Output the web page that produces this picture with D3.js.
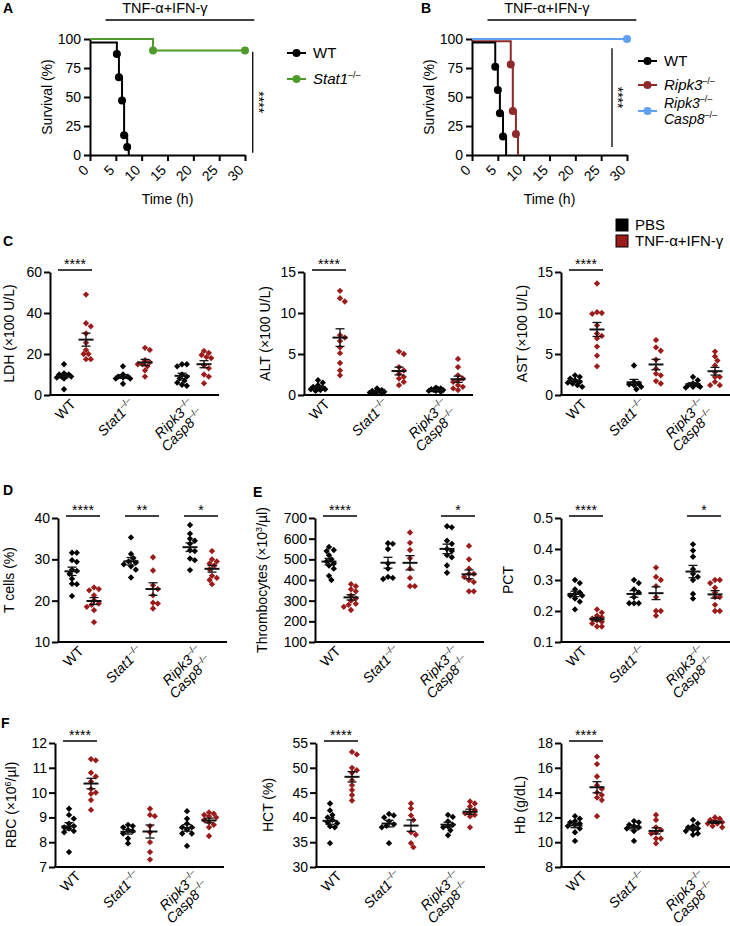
<!DOCTYPE html>
<html><head><meta charset="utf-8">
<script src="https://cdn.jsdelivr.net/npm/d3@7"></script>
<style>body{margin:0;background:#fff}</style>
</head><body><svg id="c" width="730" height="926"></svg>
<script>
// ---------------- DATA ----------------
// Survival curves (time in h, survival %)
const kmA_WT_time = [0, 5.2, 5.6, 6.2, 6.6, 7.2, 7.5];
const kmA_WT_surv = [97, 87, 67, 47, 17, 7, 0];
const kmA_Stat1_time = [0, 12.2, 30];
const kmA_Stat1_surv = [100, 90, 90];
const kmB_WT_time = [0, 4.5, 5.0, 5.4, 6.0, 6.6];
const kmB_WT_surv = [97, 76, 56, 36, 16, 0];
const kmB_Ripk3_time = [0, 7.5, 7.9, 8.5, 8.9];
const kmB_Ripk3_surv = [98, 78, 38, 18, 0];
const kmB_DKO_time = [0, 30];
const kmB_DKO_surv = [100, 100];
const kmTicksX = [0, 5, 10, 15, 20, 25, 30];
const kmTicksY = [0, 25, 50, 75, 100];

const genotypes = ["WT", "Stat1", "Ripk3Casp8"];
const treatments = ["PBS", "TNF-α+IFN-γ"];
// each measure: [WT-PBS, WT-TNF, Stat1-PBS, Stat1-TNF, Ripk3Casp8-PBS, Ripk3Casp8-TNF]
const ldh = [
  [15, 10.5, 10, 9.5, 9, 9, 8.5, 8, 10, 2.8],
  [49, 35, 33.5, 30, 25.5, 22, 20, 20, 17.5, 17.5],
  [14, 10, 9, 8.5, 8, 8, 5.5, 9],
  [23, 22, 17, 16, 15, 14, 12, 9, 15],
  [15, 15, 14, 10, 9, 8, 7, 6, 5, 4.5],
  [21.5, 20.5, 19.5, 18.5, 18, 14.5, 13, 10, 9, 5.7]];
const alt = [
  [1.8, 1.5, 1.2, 1, 0.9, 0.8, 0.7, 0.6, 0.5, 0.7],
  [12.7, 11.8, 11.4, 7.3, 7.0, 6.6, 5.8, 5.1, 3.9, 3.0, 2.4],
  [0.8, 0.6, 0.5, 0.4, 0.3, 0.3, 0.2, 0.4, 0.5],
  [5.3, 5.0, 3.4, 3.0, 2.6, 2.2, 2.0, 1.6, 1.2],
  [0.9, 0.8, 0.7, 0.7, 0.6, 0.6, 0.5, 0.5, 0.4],
  [4.4, 3.4, 2.4, 2.0, 1.8, 1.6, 1.2, 1.0, 0.8, 0.6]];
const ast = [
  [2.4, 2.2, 2.0, 1.8, 1.6, 1.5, 1.4, 1.2, 1.0],
  [13.6, 10.1, 10.0, 9.9, 8.5, 7.5, 6.9, 5.9, 4.8, 3.5, 7.2],
  [3.6, 1.6, 1.2, 0.7, 1.4, 1.0, 1.3],
  [6.7, 5.8, 5.4, 4.3, 3.2, 2.6, 2.4, 1.7, 1.4],
  [2.2, 1.8, 1.4, 1.2, 1.2, 1.0, 1.0, 0.9],
  [5.3, 4.7, 4.2, 3.6, 2.8, 2.2, 2.2, 1.6, 1.2, 1.2]];
const tcells = [
  [31.6, 31.6, 29.8, 29.4, 27.5, 27.2, 26.5, 25.3, 24.1, 24.0, 21.1],
  [23.2, 22.8, 22.5, 21.3, 20.1, 19.3, 18.5, 17.7, 19.0, 14.8],
  [35.3, 31.3, 30.3, 29.5, 29.2, 28.8, 28.3, 27.5, 25.6],
  [30.5, 27.3, 23.7, 22.8, 21.3, 19.3, 19.5, 18.1],
  [38.3, 36.2, 35.0, 34.5, 33.8, 32.2, 32.0, 30.2, 29.8, 27.4],
  [32.0, 30.0, 29.5, 29.0, 28.5, 27.6, 26.0, 25.5, 25.0, 24.0]];
const thrombocytes = [
  [560, 545, 540, 520, 500, 490, 480, 470, 455, 420, 400],
  [380, 370, 355, 345, 325, 310, 300, 285, 280, 270, 255],
  [578, 575, 550, 480, 455, 415, 410, 405],
  [630, 580, 545, 505, 455, 410, 370, 370],
  [660, 655, 590, 575, 550, 540, 510, 520, 470, 435],
  [565, 500, 455, 430, 415, 390, 400, 345, 345, 430]];
const pct = [
  [0.30, 0.29, 0.27, 0.26, 0.255, 0.25, 0.25, 0.24, 0.23, 0.205],
  [0.205, 0.195, 0.185, 0.18, 0.175, 0.17, 0.165, 0.16, 0.15, 0.15],
  [0.30, 0.29, 0.27, 0.26, 0.245, 0.225, 0.225, 0.225],
  [0.34, 0.30, 0.28, 0.245, 0.20, 0.20, 0.185, 0.31],
  [0.415, 0.395, 0.375, 0.335, 0.32, 0.31, 0.30, 0.255, 0.24],
  [0.30, 0.30, 0.29, 0.275, 0.26, 0.245, 0.245, 0.22, 0.20, 0.20]];
const rbc = [
  [9.35, 9.1, 8.95, 8.75, 8.65, 8.6, 8.55, 8.45, 8.4, 7.6],
  [11.35, 11.3, 10.8, 10.65, 10.45, 10.15, 10.0, 9.95, 9.7, 9.3],
  [8.7, 8.65, 8.6, 8.5, 8.45, 8.35, 8.15, 7.95],
  [9.35, 9.1, 9.05, 8.65, 8.4, 8.0, 7.6, 7.3],
  [9.25, 8.95, 8.75, 8.6, 8.6, 8.5, 8.35, 8.35, 7.85],
  [9.2, 9.15, 9.1, 9.05, 9.0, 8.9, 8.8, 8.7, 8.6, 8.25]];
const hct = [
  [42.8, 41.4, 40.5, 40.0, 39.5, 39.0, 38.8, 38.2, 38.0, 34.8],
  [53.2, 52.7, 50.0, 49.5, 49.0, 47.5, 46.5, 45.5, 44.5, 43.4],
  [40.7, 40.4, 40.0, 39.2, 38.6, 38.3, 38.0, 34.8],
  [42.8, 41.8, 40.4, 39.5, 37.0, 36.5, 34.8, 34.0],
  [40.5, 40.1, 39.2, 38.5, 38.2, 38.0, 37.4, 36.4],
  [43.2, 42.8, 42.2, 41.5, 41.0, 40.8, 40.5, 40.2, 38.0]];
const hb = [
  [12.1, 11.9, 11.7, 11.6, 11.5, 11.4, 11.3, 11.1, 10.8, 10.1],
  [16.9, 16.3, 15.3, 14.6, 14.3, 14.0, 13.8, 13.6, 13.4, 12.1],
  [11.7, 11.6, 11.4, 11.3, 11.2, 11.1, 10.9, 10.1],
  [12.2, 11.8, 11.2, 11.0, 10.8, 10.7, 10.3, 10.3, 9.9],
  [11.8, 11.5, 11.3, 11.2, 11.1, 11.0, 10.9, 10.7, 10.6],
  [12.0, 11.9, 11.8, 11.7, 11.6, 11.5, 11.5, 11.3, 11.2]];

// ---------------- STYLE ----------------
const FONT = '"Liberation Sans", Arial, Helvetica, sans-serif';
const BLACK = "#000", RED = "#9c1c1c", KMRED = "#8e2a2a", GREEN = "#4e9a2a", BLUE = "#5ea0f4";
const svg = d3.select("#c").attr("font-family", FONT);

function styleAxis(g) {
  g.attr("font-family", FONT).attr("font-size", 14);
  g.selectAll("path.domain").attr("stroke", BLACK).attr("stroke-width", 2);
  g.selectAll(".tick line").attr("stroke", BLACK).attr("stroke-width", 2);
  g.selectAll(".tick text").attr("fill", BLACK);
}
function sup(t, s, size) {
  t.append("tspan").attr("font-size", size || 9).attr("dy", -6).text(s);
}

// panel letters
[["A", 3, 13], ["B", 421, 13], ["C", 3, 246], ["D", 3, 495], ["E", 253, 497], ["F", 1, 728]].forEach(([l, x, y]) =>
  svg.append("text").attr("x", x).attr("y", y).attr("font-size", 14).attr("font-weight", "bold").text(l));

// ---------------- SURVIVAL PANELS ----------------
function kmPanel(x0, series, sig, legend) {
  const x = d3.scaleLinear().domain([0, 30]).range([x0, x0 + 155]);
  const y = d3.scaleLinear().domain([0, 100]).range([155, 39]);
  const g = svg.append("g");
  g.append("text").attr("x", x(14.5)).attr("y", 13).attr("text-anchor", "middle").attr("font-size", 14.5).text("TNF-α+IFN-γ");
  g.append("line").attr("x1", x(3)).attr("x2", x(31.8)).attr("y1", 20).attr("y2", 20).attr("stroke", BLACK).attr("stroke-width", 1.5);
  const ya = g.append("g").attr("transform", `translate(${x0},0)`)
    .call(d3.axisLeft(y).tickValues(kmTicksY).tickSize(6).tickSizeOuter(0).tickPadding(3));
  styleAxis(ya);
  const xa = g.append("g").attr("transform", "translate(0,155)")
    .call(d3.axisBottom(x).tickValues(kmTicksX).tickSize(6).tickSizeOuter(0));
  styleAxis(xa);
  xa.selectAll(".tick text").attr("y", 0).attr("dy", 0).attr("text-anchor", "end")
    .attr("transform", "translate(-1,16) rotate(-45)");
  g.append("text").attr("transform", `translate(${x0 - 43},97) rotate(-90)`).attr("text-anchor", "middle")
    .attr("dy", "0.35em").attr("font-size", 14).text("Survival (%)");
  g.append("text").attr("x", x(15)).attr("y", 204).attr("text-anchor", "middle").attr("font-size", 14).text("Time (h)");
  const line = d3.line().x((d) => x(d[0])).y((d) => y(d[1])).curve(d3.curveStepAfter);
  series.forEach((s) => {
    const pts = s.t.map((t, i) => [t, s.s[i]]);
    g.append("path").attr("d", line(pts)).attr("fill", "none").attr("stroke", s.color).attr("stroke-width", 2);
    const dots = pts.filter((p, i) => i > 0 && p[1] > 0);
    g.selectAll(null).data(dots).join("circle").attr("cx", (d) => x(d[0])).attr("cy", (d) => y(d[1]))
      .attr("r", 4).attr("fill", s.color);
  });
  g.append("line").attr("x1", x(sig.t)).attr("x2", x(sig.t)).attr("y1", y(sig.from)).attr("y2", y(sig.to))
    .attr("stroke", BLACK).attr("stroke-width", 1.3);
  g.append("text").attr("transform", `translate(${x(sig.t) + 6},${y((sig.from + sig.to) / 2)}) rotate(90)`)
    .attr("text-anchor", "middle").attr("font-size", 14).attr("fill", BLACK).attr("dy", "0.35em").text("****");
  legend.items.forEach((it, i) => {
    const ly = legend.y[i];
    g.append("line").attr("x1", legend.x).attr("x2", legend.x + 19).attr("y1", ly).attr("y2", ly)
      .attr("stroke", it.color).attr("stroke-width", 2);
    g.append("circle").attr("cx", legend.x + 9.5).attr("cy", ly).attr("r", 4).attr("fill", it.color);
    const multi = it.lines.length > 1;
    it.lines.forEach((ln, j) => {
      const t = g.append("text").attr("x", legend.x + 26).attr("y", ly + 5 + (multi ? (j - 0.5) * 16 : 0))
        .attr("font-size", multi ? 14 : 15);
      if (ln.sup) { t.append("tspan").attr("font-style", "italic").text(ln.txt); sup(t, "–/–", 9); }
      else t.text(ln.txt);
    });
  });
}

kmPanel(90,
  [{ t: kmA_Stat1_time, s: kmA_Stat1_surv, color: GREEN }, { t: kmA_WT_time, s: kmA_WT_surv, color: BLACK }],
  { t: 31.5, from: 89, to: 2 },
  { x: 287, y: [53, 79], items: [{ color: BLACK, lines: [{ txt: "WT" }] }, { color: GREEN, lines: [{ txt: "Stat1", sup: true }] }] });
kmPanel(472,
  [{ t: kmB_DKO_time, s: kmB_DKO_surv, color: BLUE }, { t: kmB_Ripk3_time, s: kmB_Ripk3_surv, color: KMRED }, { t: kmB_WT_time, s: kmB_WT_surv, color: BLACK }],
  { t: 27.1, from: 92, to: 7 },
  { x: 638, y: [61, 85, 111], items: [{ color: BLACK, lines: [{ txt: "WT" }] }, { color: KMRED, lines: [{ txt: "Ripk3", sup: true }] },
    { color: BLUE, lines: [{ txt: "Ripk3", sup: true }, { txt: "Casp8", sup: true }] }] });

// treatment legend
treatments.forEach((tr, i) => {
  const ly = 225 + i * 16;
  svg.append("rect").attr("x", 616).attr("y", ly - 6).attr("width", 12).attr("height", 12)
    .attr("fill", i ? RED : BLACK).attr("stroke", BLACK).attr("stroke-width", 1);
  svg.append("text").attr("x", 635).attr("y", ly + 5).attr("font-size", 15).text(tr);
});

// ---------------- SCATTER PANELS ----------------
// deterministic beeswarm: offsets limited to +/- maxOff; overlap allowed when crowded
function beeswarm(vals, y, minD, step, maxOff) {
  const placed = [];
  const sorted = vals.slice().sort((a, b) => b - a);
  const offs = [0];
  for (let k = 1; k * step <= maxOff; k++) offs.push(k * step, -k * step);
  sorted.forEach((v) => {
    const yy = y(v);
    let best = 0, bestD = -1;
    for (const off of offs) {
      const d = placed.length ? Math.min(...placed.map((p) => Math.hypot(p.x - off, p.y - yy))) : Infinity;
      if (d >= minD) { best = off; bestD = d; break; }
      if (d > bestD) { bestD = d; best = off; }
    }
    placed.push({ x: best, y: yy });
  });
  return placed;
}

function scatterPanel(cfg) {
  const { axisX, yTop, yBottom, domain, ticks, fmt, data, sig } = cfg;
  const g = svg.append("g");
  const y = d3.scaleLinear().domain(domain).range([yBottom, yTop]);
  const gx = d3.scalePoint().domain(genotypes).range([axisX + 25, axisX + 143]);
  const tx = d3.scalePoint().domain(treatments).range([-11, 11]);
  const ya = g.append("g").attr("transform", `translate(${axisX},0)`)
    .call(d3.axisLeft(y).tickValues(ticks).tickSize(6).tickSizeOuter(0).tickPadding(2).tickFormat(fmt || d3.format("d")));
  styleAxis(ya);
  g.append("line").attr("x1", axisX - 1).attr("x2", Math.min(axisX + 169, 730)).attr("y1", yBottom).attr("y2", yBottom)
    .attr("stroke", BLACK).attr("stroke-width", 2);
  const xa = g.append("g").attr("transform", `translate(0,${yBottom})`)
    .call(d3.axisBottom(gx).tickSize(0).tickFormat(() => ""));
  xa.select(".domain").remove();
  xa.selectAll(".tick").each(function (gt) {
    const tk = d3.select(this);
    const mk = (dyl) => tk.append("text").attr("text-anchor", "end").attr("font-size", 14).attr("fill", BLACK)
      .attr("font-family", FONT).attr("transform", `translate(1,10) rotate(-45)`).attr("y", dyl);
    if (gt === "WT") mk(0).text("WT");
    else if (gt === "Stat1") { const t = mk(0); t.append("tspan").attr("font-style", "italic").text("Stat1"); sup(t, "–/–"); }
    else {
      const t1 = mk(0); t1.append("tspan").attr("font-style", "italic").text("Ripk3"); sup(t1, "–/–");
      const t2 = mk(14); t2.append("tspan").attr("font-style", "italic").text("Casp8"); sup(t2, "–/–");
    }
  });
  const lab = g.append("text").attr("transform", `translate(${cfg.labelX},${(yTop + yBottom) / 2}) rotate(-90)`)
    .attr("text-anchor", "middle").attr("dy", "0.35em").attr("font-size", 14);
  cfg.label(lab);
  const diamond = d3.symbol().type(d3.symbolSquare).size(20)();
  data.forEach((vals, i) => {
    const gen = genotypes[Math.floor(i / 2)], tr = treatments[i % 2];
    const cx = gx(gen) + tx(tr);
    const col = i % 2 ? RED : BLACK;
    const pts = beeswarm(vals, y, 4.6, 2.4, 8);
    g.selectAll(null).data(pts).join("path").attr("d", diamond)
      .attr("transform", (p) => `translate(${cx + p.x},${p.y}) rotate(45)`).attr("fill", col);
    const m = d3.mean(vals), se = d3.deviation(vals) / Math.sqrt(vals.length);
    g.append("line").attr("x1", cx - 7.5).attr("x2", cx + 7.5).attr("y1", y(m)).attr("y2", y(m)).attr("stroke", "#111").attr("stroke-width", 2);
    g.append("line").attr("x1", cx).attr("x2", cx).attr("y1", y(m - se)).attr("y2", y(m + se)).attr("stroke", "#111").attr("stroke-width", 1.3);
    [m - se, m + se].forEach((v) => g.append("line").attr("x1", cx - 4.5).attr("x2", cx + 4.5).attr("y1", y(v)).attr("y2", y(v))
      .attr("stroke", "#111").attr("stroke-width", 1.3));
  });
  (sig || []).forEach(([gen, stars]) => {
    const c = gx(gen), ly = yTop - 2;
    g.append("line").attr("x1", c - 17).attr("x2", c + 17).attr("y1", ly).attr("y2", ly).attr("stroke", BLACK).attr("stroke-width", 1.3);
    g.append("text").attr("x", c).attr("y", ly - 1).attr("text-anchor", "middle").attr("font-size", 14).attr("fill", BLACK).text(stars);
  });
}

const lbl = (txt) => (t) => t.text(txt);
const lblSup = (a, s, b) => (t) => { t.append("tspan").text(a); t.append("tspan").attr("font-size", 9).attr("dy", -5).text(s); t.append("tspan").attr("dy", 5).text(b); };

// Row C
scatterPanel({ axisX: 50, yTop: 272, yBottom: 395, domain: [0, 60], ticks: [0, 20, 40, 60], data: ldh, labelX: 9, label: lbl("LDH (×100 U/L)"), sig: [["WT", "****"]] });
scatterPanel({ axisX: 304, yTop: 272, yBottom: 395, domain: [0, 15], ticks: [0, 5, 10, 15], data: alt, labelX: 265, label: lbl("ALT (×100 U/L)"), sig: [["WT", "****"]] });
scatterPanel({ axisX: 561, yTop: 272, yBottom: 395, domain: [0, 15], ticks: [0, 5, 10, 15], data: ast, labelX: 522, label: lbl("AST (×100 U/L)"), sig: [["WT", "****"]] });
// Row D / E
scatterPanel({ axisX: 58, yTop: 518, yBottom: 642, domain: [10, 40], ticks: [10, 20, 30, 40], data: tcells, labelX: 9, label: lbl("T cells (%)"), sig: [["WT", "****"], ["Stat1", "**"], ["Ripk3Casp8", "*"]] });
scatterPanel({ axisX: 315, yTop: 518, yBottom: 642, domain: [100, 700], ticks: d3.range(100, 701, 100), data: thrombocytes, labelX: 262, label: lblSup("Thrombocytes (×10", "3", "/µl)"), sig: [["WT", "****"], ["Ripk3Casp8", "*"]] });
scatterPanel({ axisX: 561, yTop: 518, yBottom: 642, domain: [0.1, 0.5], ticks: [0.1, 0.2, 0.3, 0.4, 0.5], fmt: d3.format(".1f"), data: pct, labelX: 508, label: lbl("PCT"), sig: [["WT", "****"], ["Ripk3Casp8", "*"]] });
// Row F
scatterPanel({ axisX: 55, yTop: 743, yBottom: 867, domain: [7, 12], ticks: d3.range(7, 13), data: rbc, labelX: 11, label: lblSup("RBC (×10", "6", "/µl)"), sig: [["WT", "****"]] });
scatterPanel({ axisX: 316, yTop: 743, yBottom: 867, domain: [30, 55], ticks: d3.range(30, 56, 5), data: hct, labelX: 268, label: lbl("HCT (%)"), sig: [["WT", "****"]] });
scatterPanel({ axisX: 561, yTop: 743, yBottom: 867, domain: [8, 18], ticks: d3.range(8, 19, 2), data: hb, labelX: 520, label: lbl("Hb (g/dL)"), sig: [["WT", "****"]] });
</script></body></html>
